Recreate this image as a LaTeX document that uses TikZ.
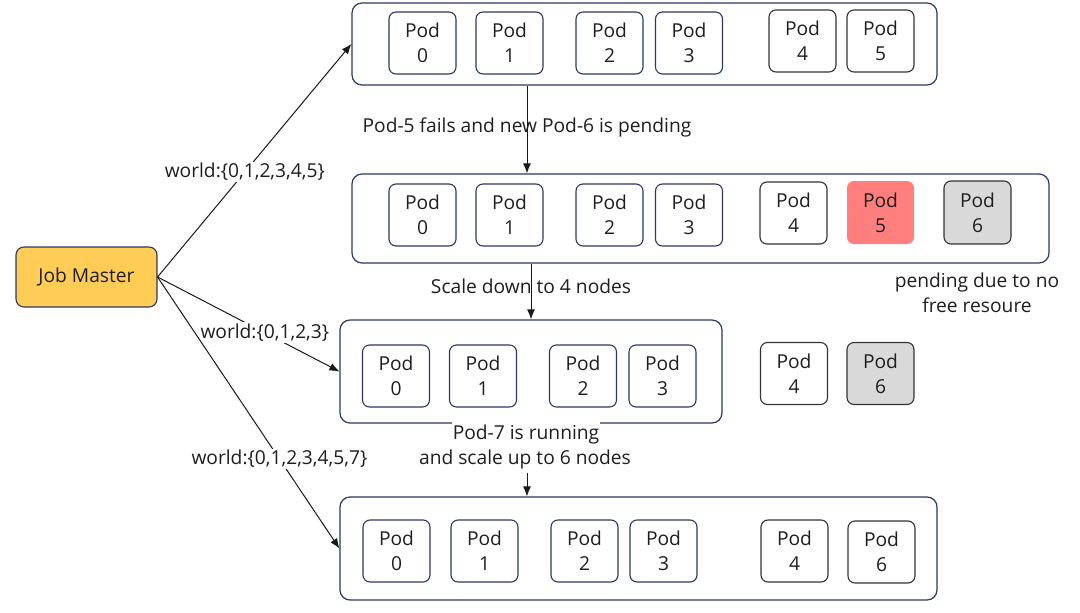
\documentclass[tikz,border=0pt]{standalone}
\usepackage{fontspec}
\setmainfont{Open Sans}
\usetikzlibrary{arrows.meta}
\definecolor{navy}{RGB}{46,56,98}
\definecolor{jmfill}{RGB}{255,204,85}
\definecolor{redpod}{RGB}{255,127,127}
\definecolor{graypod}{RGB}{217,217,217}
\definecolor{ink}{RGB}{30,30,30}
\tikzset{
  txt/.style={font=\fontsize{19.2}{25}\selectfont, text=ink},
  pod/.style={txt, draw=navy, line width=1.1pt, rounded corners=7pt, minimum width=67pt, minimum height=62pt, inner sep=0pt, align=center},
  podk/.style={pod, draw=black!80},
  outer/.style={draw=navy, line width=1.2pt, rounded corners=10pt, inner sep=0pt},
  lbl/.style={txt, fill=white, inner sep=1.5pt, align=center},
  arr/.style={draw=black!90, line width=1pt, -{Latex[length=10pt,width=8pt]}},
}
\begin{document}
\begin{tikzpicture}[x=1pt,y=-1pt]
\useasboundingbox (0,0) rectangle (1080,613);
% outer boxes
\node[outer, minimum width=585pt, minimum height=82pt] (b1) at (644.5,44) {};
\node[outer, minimum width=697pt, minimum height=89pt] (b2) at (700.5,218.5) {};
\node[outer, minimum width=382pt, minimum height=103pt] (b3) at (531,371.5) {};
\node[outer, minimum width=597pt, minimum height=103pt] (b4) at (638.5,548.5) {};
% job master
\node[txt, draw=navy, line width=1.1pt, fill=jmfill, rounded corners=8pt, minimum width=141pt, minimum height=60pt] (jm) at (86.5,277) {Job Master};
% box 1 pods
\node[pod] (a0) at (422.5,43) {Pod\\0};
\node[pod] (a1) at (509.5,43) {Pod\\1};
\node[pod] (a2) at (609.5,43) {Pod\\2};
\node[pod] (a3) at (689,43) {Pod\\3};
\node[podk] (a4) at (802.5,41) {Pod\\4};
\node[podk] (a5) at (880.5,41) {Pod\\5};
% box 2 pods
\node[pod] (c0) at (422.5,215) {Pod\\0};
\node[pod] (c1) at (509.5,215) {Pod\\1};
\node[pod] (c2) at (609.5,215) {Pod\\2};
\node[pod] (c3) at (689,215) {Pod\\3};
\node[podk] (c4) at (793.5,213) {Pod\\4};
\node[pod, draw=none, fill=redpod, minimum height=63pt] (c5) at (880.5,212.5) {Pod\\5};
\node[podk, fill=graypod, minimum height=63pt] (c6) at (977.5,212.5) {Pod\\6};
\node[txt, align=center] (pend) at (977,293) {pending due to no\\free resoure};
% box 3 pods
\node[pod] (d0) at (396,376) {Pod\\0};
\node[pod] (d1) at (483,376) {Pod\\1};
\node[pod] (d2) at (583,376) {Pod\\2};
\node[pod] (d3) at (662.5,376) {Pod\\3};
\node[podk] (d4) at (794,373.5) {Pod\\4};
\node[podk, fill=graypod] (d6) at (880.5,373.5) {Pod\\6};
% box 4 pods
\node[pod] (e0) at (396.5,551) {Pod\\0};
\node[pod] (e1) at (484.5,551) {Pod\\1};
\node[pod] (e2) at (584.5,551) {Pod\\2};
\node[pod] (e3) at (663.5,551) {Pod\\3};
\node[podk] (e4) at (794.5,551) {Pod\\4};
\node[podk] (e6) at (881.5,552) {Pod\\6};
% vertical transitions
\node[lbl] (t1) at (527,127) {Pod-5 fails and new Pod-6 is pending};
\draw[arr] (b1.south -| t1) -- (b2.north -| t1);
\node[lbl] (t2) at (531,286) {Scale down to 4 nodes};
\draw[arr] (b2.south -| t2) -- (b3.north -| t2);
\node[lbl, inner xsep=1pt, inner ysep=4pt] (t3a) at (526,435) {Pod-7 is running};
\node[txt] (t3b) at (525,460) {and scale up to 6 nodes};
\draw[arr] (t3b.south -| 527,0) -- (b4.north -| 527,0);
% job master connectors
\draw[arr] (jm.east) -- node[lbl, pos=0.45] {world:\{0,1,2,3,4,5\}} (b1.west);
\draw[arr] (jm.east) -- node[lbl, pos=0.59] {world:\{0,1,2,3\}} (b3.west);
\draw[arr] (jm.east) -- node[lbl, pos=0.67] {world:\{0,1,2,3,4,5,7\}} (b4.west);
\end{tikzpicture}
\end{document}
